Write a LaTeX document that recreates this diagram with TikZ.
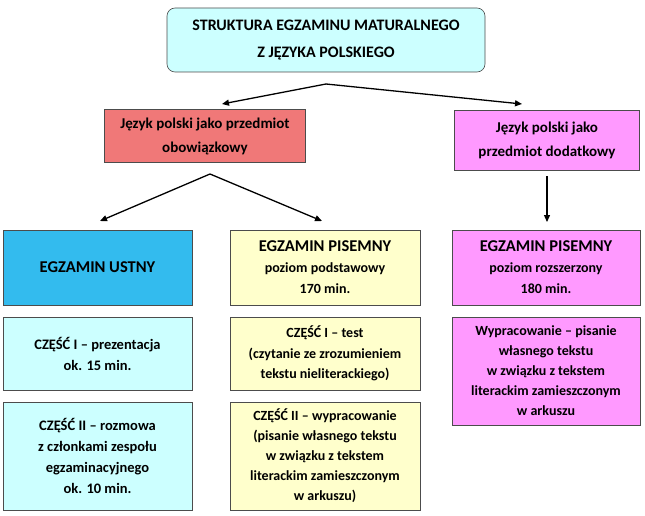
\documentclass[tikz,border=0pt]{standalone}
\usepackage{fontspec}
\setmainfont{Carlito}
\usetikzlibrary{arrows.meta}
\definecolor{tcyan}{HTML}{CCFFFF}
\definecolor{tred}{HTML}{F07878}
\definecolor{tpink}{HTML}{FF99FF}
\definecolor{tblue}{HTML}{33BBEE}
\definecolor{tyel}{HTML}{FFFFCC}
\tikzset{
  bx/.style={draw=black!70, line width=0.6pt, align=center, font=\bfseries\fontsize{14.5}{21}\selectfont, inner sep=2pt},
  ar/.style={-{Triangle[length=7pt,width=6pt]}, line width=1.3pt}
}
\begin{document}
\begin{tikzpicture}[x=1pt,y=-1pt]
\useasboundingbox (0,0) rectangle (645,516);
\node[bx, fill=tcyan, rounded corners=8pt, minimum width=318pt, minimum height=64pt, font=\bfseries\fontsize{16}{27}\selectfont] (t) at (326,40) {STRUKTURA EGZAMINU MATURALNEGO\\Z JĘZYKA POLSKIEGO};
\node[bx, fill=tred, minimum width=201pt, minimum height=53pt, font=\bfseries\fontsize{15}{24}\selectfont] (r) at (205,136) {Język polski jako przedmiot\\obowiązkowy};
\node[bx, fill=tpink, minimum width=185pt, minimum height=60pt, font=\bfseries\fontsize{15}{24}\selectfont] (p) at (547,140) {Język polski jako\\przedmiot dodatkowy};
\coordinate (tb) at (326,84);
\draw[ar] (tb) -- (222,104);
\draw[ar] (tb) -- (522,104);
\coordinate (rb) at (210,174);
\draw[ar] (rb) -- (100,221);
\draw[ar] (rb) -- (322,221);
\draw[ar] (p.south |- 0,176) -- (547,222);
\node[bx, fill=tblue, minimum width=189pt, minimum height=75pt, font=\bfseries\fontsize{16.5}{20}\selectfont] (u) at (97.5,267.5) {EGZAMIN USTNY};
\node[bx, fill=tyel, minimum width=190pt, minimum height=75pt, font=\bfseries\fontsize{14}{21}\selectfont] (m) at (325,267.5) {{\fontsize{16.5}{21}\selectfont EGZAMIN PISEMNY}\\poziom podstawowy\\170 min.};
\node[bx, fill=tpink, minimum width=188pt, minimum height=75pt, font=\bfseries\fontsize{14}{21}\selectfont] (rr) at (546,267.5) {{\fontsize{16.5}{21}\selectfont EGZAMIN PISEMNY}\\poziom rozszerzony\\180 min.};
\node[bx, fill=tcyan, minimum width=189pt, minimum height=73pt] (u1) at (97.5,353.5) {CZĘŚĆ I – prezentacja\\ok. 15 min.};
\node[bx, fill=tcyan, minimum width=189pt, minimum height=108pt] (u2) at (97.5,456) {CZĘŚĆ II – rozmowa\\z członkami zespołu\\egzaminacyjnego\\ok. 10 min.};
\node[bx, fill=tyel, minimum width=190pt, minimum height=73pt, font=\bfseries\fontsize{14}{20.5}\selectfont] (m1) at (325,353.5) {CZĘŚĆ I – test\\(czytanie ze zrozumieniem\\tekstu nieliterackiego)};
\node[bx, fill=tyel, minimum width=190pt, minimum height=108pt, font=\bfseries\fontsize{14}{20}\selectfont] (m2) at (325,456) {CZĘŚĆ II – wypracowanie\\(pisanie własnego tekstu\\w związku z tekstem\\literackim zamieszczonym\\w arkuszu)};
\node[bx, fill=tpink, minimum width=188pt, minimum height=108pt, font=\bfseries\fontsize{14}{20}\selectfont] (r1) at (546,371) {Wypracowanie – pisanie\\własnego tekstu\\w związku z tekstem\\literackim zamieszczonym\\w arkuszu};
\end{tikzpicture}
\end{document}
